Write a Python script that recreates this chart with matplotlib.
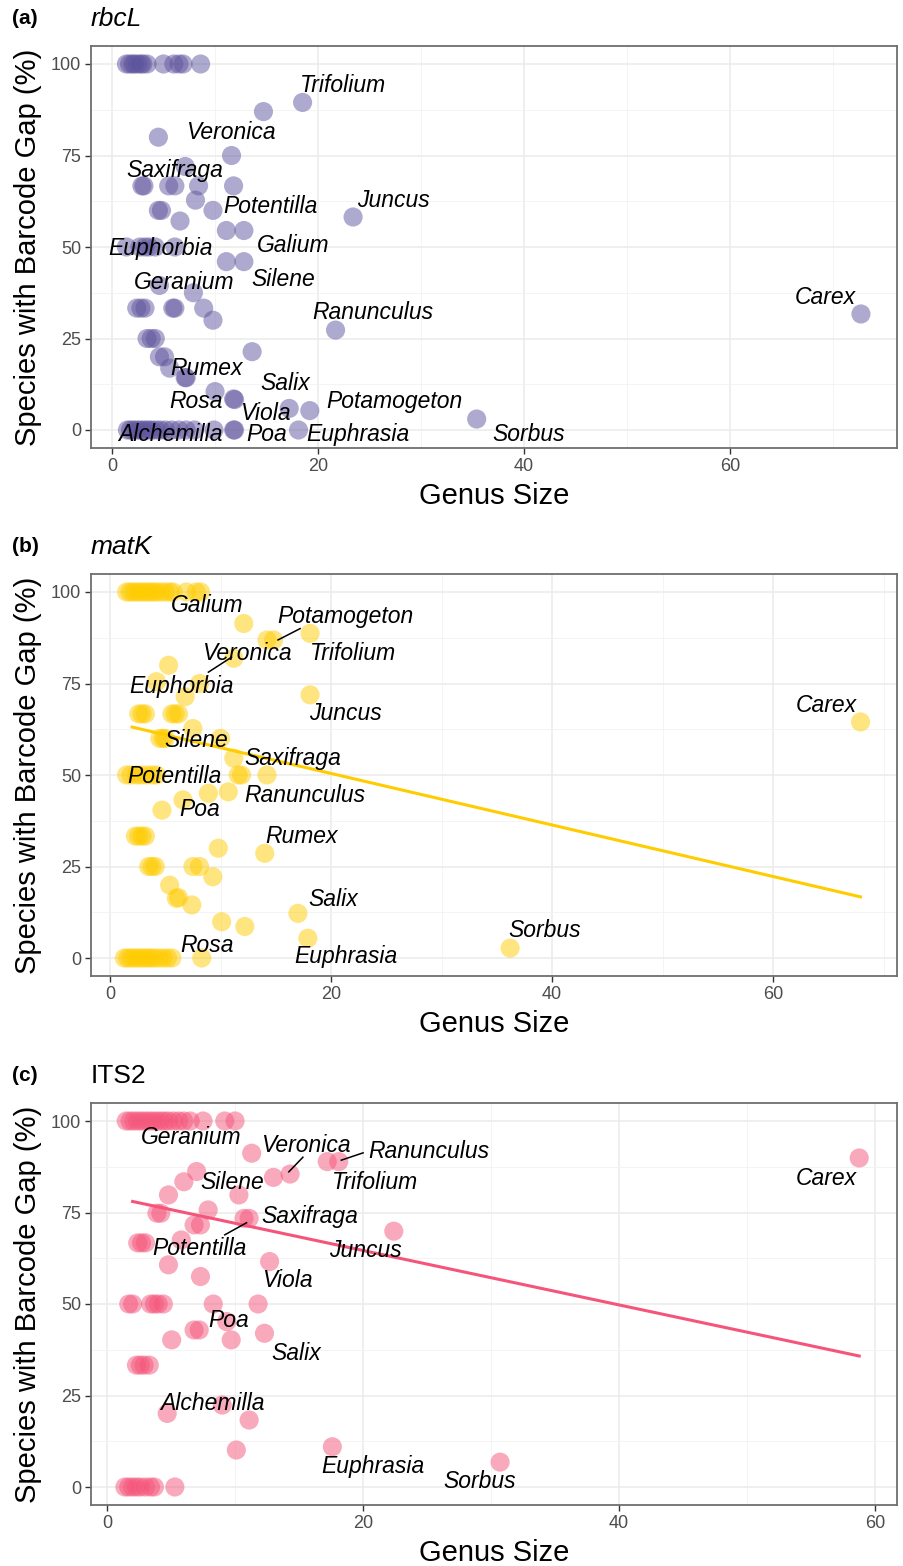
import numpy as np
import matplotlib
matplotlib.use("Agg")
from matplotlib import pyplot as plt
from matplotlib.ticker import MultipleLocator

plt.rcParams['font.family'] = ['Liberation Sans', 'DejaVu Sans']

# ---- panel (a) rbcL ----
a_x = [1.4, 1.7, 2.0, 2.2, 2.5, 2.8, 3.0, 3.4, 5.0, 6.0, 6.5, 6.9, 8.6,
       18.5, 14.7, 4.5, 11.6, 7.1,
       2.9, 3.1, 5.5, 6.1, 8.4, 11.8,
       8.1, 4.5, 4.8, 9.8, 6.6, 23.4, 11.1, 12.8,
       1.4, 2.7, 3.2, 3.6, 4.2, 6.1,
       11.1, 12.8, 4.6, 7.9,
       2.4, 2.8, 3.2, 5.9, 6.1, 8.9,
       9.8, 21.7, 72.7,
       3.4, 3.8, 4.2, 13.6, 4.6, 5.1, 5.6, 7.1, 7.2, 10.0, 11.8, 11.9,
       17.2, 19.2, 35.4,
       1.5, 1.8, 2.1, 2.4, 2.7, 3.0, 3.3, 3.6, 3.9, 4.3, 4.7, 5.2, 5.8,
       6.5, 7.2, 8.0, 9.9, 11.8, 11.9, 18.1]
a_y = [100] * 13 + \
      [89.5, 87, 80, 75, 72] + \
      [66.7] * 6 + \
      [62.8, 60, 60, 60, 57.1, 58.2, 54.5, 54.5] + \
      [50] * 6 + \
      [46, 46, 39.5, 37.5] + \
      [33.3] * 6 + \
      [30, 27.3, 31.7] + \
      [25, 25, 25, 21.4, 20, 20, 16.9, 14.3, 14.3, 10.5, 8.5, 8.3] + \
      [5.9, 5.3, 3.0] + \
      [0] * 20

a_lab = ["Trifolium", "Veronica", "Saxifraga", "Potentilla", "Juncus", "Euphorbia",
         "Galium", "Geranium", "Silene", "Ranunculus", "Carex", "Rumex", "Salix",
         "Rosa", "Viola", "Potamogeton", "Alchemilla", "Poa", "Euphrasia", "Sorbus"]
a_lx = [22.4, 11.5, 6.1, 15.4, 27.3, 4.7, 17.6, 7.0, 16.6, 25.3, 69.2, 9.2, 16.8,
        8.2, 14.9, 27.4, 5.7, 15.0, 23.9, 40.4]
a_ly = [94.0, 81.4, 70.8, 61.2, 62.8, 49.7, 50.3, 40.2, 41.0, 32.0, 36.1, 16.7, 12.8,
        7.9, 4.6, 7.9, -1.1, -1.3, -1.1, -1.1]

# ---- panel (b) matK ----
b_x = [1.5, 1.8, 2.1, 2.4, 2.7, 3.0, 3.3, 3.6, 3.9, 4.2, 4.6, 5.0, 5.4, 5.7, 6.9, 7.8, 8.2,
       12.1, 14.2, 14.8, 18.1, 11.2, 5.3, 4.2, 8.1, 6.8, 18.1,
       2.6, 2.9, 3.2, 5.6, 5.9, 6.2,
       7.5, 4.5, 4.8, 5.0, 10.0, 11.2,
       1.5, 1.9, 2.4, 2.8, 3.3, 3.8, 4.2, 11.6, 11.9, 14.2,
       10.7, 8.9, 6.6, 4.7,
       2.3, 2.6, 2.9, 3.2, 9.8, 14.0,
       3.5, 3.8, 4.1, 7.5, 8.1,
       9.3, 5.4, 6.0, 6.2, 7.4, 10.1, 12.2, 17.0, 17.9, 36.2, 67.9,
       1.3, 1.6, 1.9, 2.2, 2.5, 2.8, 3.1, 3.4, 3.7, 4.0, 4.4, 4.8, 5.2, 5.6, 8.3]
b_y = [100] * 17 + \
      [91.4, 86.9, 86.9, 88.7, 81.9, 80, 75.5, 75, 71.4, 71.9] + \
      [66.7] * 6 + \
      [62.7, 60, 60, 60, 60, 54.6] + \
      [50] * 10 + \
      [45.4, 45, 43.2, 40.4] + \
      [33.3] * 4 + [30, 28.6] + \
      [25] * 5 + \
      [22.2, 19.9, 16.3, 16.5, 14.5, 9.9, 8.6, 12.2, 5.4, 2.7, 64.5] + \
      [0] * 15
b_fit = (64.5, -0.704)  # intercept, slope as drawn

b_lab = ["Galium", "Potamogeton", "Veronica", "Trifolium", "Euphorbia", "Juncus", "Carex",
         "Silene", "Saxifraga", "Potentilla", "Ranunculus", "Poa", "Rumex", "Salix",
         "Sorbus", "Rosa", "Euphrasia"]
b_lx = [8.8, 21.3, 12.4, 22.0, 6.5, 21.3, 64.8, 7.8, 16.5, 5.8, 17.6, 8.1, 17.3, 20.2,
        39.3, 8.8, 21.3]
b_ly = [96.2, 93.2, 83.3, 83.3, 74.3, 66.7, 68.9, 59.3, 54.4, 49.5, 44.5, 40.7, 33.1, 16.1,
        7.4, 3.3, 0.3]
b_seg = [((15.2, 86.9), (17.2, 90.0)), ((8.9, 78.1), (11.0, 82.2))]

# ---- panel (c) ITS2 ----
c_x = [1.5, 1.8, 2.1, 2.4, 2.7, 3.0, 3.3, 3.6, 3.9, 4.2, 4.5, 4.8, 5.2, 5.6, 6.0, 6.5,
       7.5, 9.2, 10.0,
       11.3, 17.2, 18.1, 14.3, 13.0, 7.0, 6.0, 4.8, 10.3, 7.9, 3.9, 4.2, 6.8, 7.3, 10.7, 11.1,
       2.4, 2.7, 3.0, 5.8,
       4.8, 12.7, 7.3, 22.4,
       1.7, 2.0, 3.4, 3.7, 4.0, 4.4, 8.3, 11.8,
       6.8, 7.2, 9.35, 12.3, 5.05, 9.7,
       2.3, 2.6, 2.9, 3.3,
       4.7, 9.0, 11.1, 10.1, 17.6, 30.7, 58.75,
       1.4, 1.7, 2.0, 2.3, 2.6, 3.0, 3.4, 3.7, 5.3]
c_y = [100] * 19 + \
      [91.2, 88.9, 88.9, 85.5, 84.6, 86.2, 83.4, 79.8, 79.8, 75.7, 74.8, 74.8, 71.6, 71.6,
       73.4, 73.4] + \
      [66.7, 66.7, 66.7, 67.5] + \
      [60.7, 61.6, 57.5, 69.9] + \
      [50] * 8 + \
      [42.9, 42.9, 45.2, 42.0, 40.2, 40.2] + \
      [33.3] * 4 + \
      [20.1, 22.4, 18.3, 10.1, 11.0, 6.8, 89.9] + \
      [0] * 9
c_fit = (79.5, -0.744)

c_lab = ["Geranium", "Veronica", "Ranunculus", "Silene", "Trifolium", "Carex", "Saxifraga",
         "Potentilla", "Juncus", "Viola", "Poa", "Salix", "Alchemilla", "Euphrasia", "Sorbus"]
c_lx = [6.6, 15.5, 25.1, 9.8, 20.9, 56.2, 15.8, 7.2, 20.2, 14.1, 9.5, 14.8, 8.2, 20.8, 29.1]
c_ly = [95.4, 93.4, 91.8, 83.1, 83.1, 84.4, 74.0, 65.3, 64.5, 56.3, 45.6, 36.6, 22.7, 5.7, 1.4]
c_seg = [((15.3, 90.1), (14.2, 86.1)), ((20.0, 91.3), (18.3, 89.3)), ((9.2, 68.9), (10.9, 72.2))]

W, H = 904, 1566
fig = plt.figure(figsize=(W / 100, H / 100), dpi=100)


def panel(top_px, xlim, xs, ys, col, labs, lx, ly, segs, fit, tag, gene, gene_style):
    bot_px = top_px + 402.6
    ax = fig.add_axes([91 / W, 1 - bot_px / H, 806 / W, 402.6 / H])
    ax.set_xlim(*xlim)
    ax.set_ylim(-5, 105)
    ax.xaxis.set_major_locator(MultipleLocator(20))
    ax.xaxis.set_minor_locator(MultipleLocator(10))
    ax.yaxis.set_major_locator(MultipleLocator(25))
    ax.yaxis.set_minor_locator(MultipleLocator(12.5))
    ax.grid(which='major', color='#EBEBEB', lw=1.1, zorder=0)
    ax.grid(which='minor', color='#F2F2F2', lw=0.6, zorder=0)
    ax.set_axisbelow(True)
    for s in ax.spines.values():
        s.set_color('#6E6E6E')
        s.set_linewidth(1.3)
    ax.tick_params(which='major', length=4, width=1, color='#333333', labelsize=13,
                   labelcolor='#4D4D4D', pad=3)
    ax.tick_params(which='minor', length=0)
    ax.scatter(xs, ys, s=190, color=col, alpha=0.5, edgecolors='none', zorder=2)
    if fit is not None:
        xx = np.array([2.0, max(xs)])
        ax.plot(xx, fit[0] + fit[1] * xx, color=col, lw=2.2, zorder=3)
    for (p0, p1) in segs:
        ax.plot([p0[0], p1[0]], [p0[1], p1[1]], color='black', lw=1.1, zorder=4)
    for t, x, y in zip(labs, lx, ly):
        ax.text(x, y, t, fontsize=16.5, style='italic', ha='center', va='center', zorder=5)
    ycen = 1 - (top_px + 201.3) / H
    fig.text(28 / W, ycen, "Species with Barcode Gap (%)", rotation=90, fontsize=21,
             ha='center', va='center')
    fig.text(494 / W, 1 - (bot_px + 48) / H, "Genus Size", fontsize=21, ha='center', va='center')
    fig.text(25 / W, 1 - (top_px - 27) / H, tag, fontsize=15, fontweight='bold',
             ha='center', va='center')
    fig.text(91 / W, 1 - (top_px - 27) / H, gene, fontsize=19, style=gene_style,
             ha='left', va='center')
    return ax


panel(45.7, (-2.04, 76.2), a_x, a_y, '#5F559E', a_lab, a_lx, a_ly, [], None, "(a)", "rbcL", 'italic')
panel(573.7, (-1.72, 71.2), b_x, b_y, '#FFCC00', b_lab, b_lx, b_ly, b_seg, b_fit, "(b)", "matK", 'italic')
panel(1102.7, (-1.25, 61.7), c_x, c_y, '#F5557A', c_lab, c_lx, c_ly, c_seg, c_fit, "(c)", "ITS2", 'normal')

fig.savefig("out.png", dpi=100)
